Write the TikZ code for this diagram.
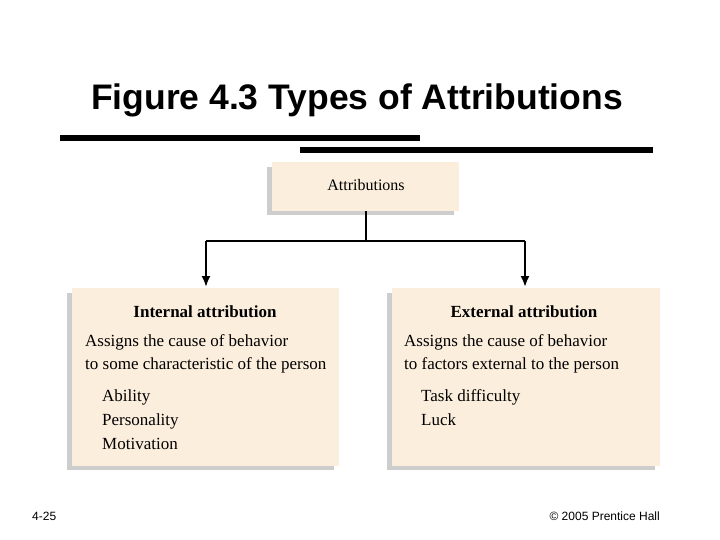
\documentclass[tikz,border=0pt]{standalone}
\usepackage{fontspec}
\usetikzlibrary{arrows.meta}
\setmainfont{Liberation Serif}
\newfontfamily\arial{Liberation Sans}
\definecolor{peach}{RGB}{252,238,221}
\definecolor{shade}{RGB}{205,205,205}
\begin{document}
\begin{tikzpicture}[x=1pt,y=-1pt,
  box/.style={fill=peach},
  shadowbox/.style={fill=shade},
  conn/.style={line width=2pt},
  txt/.style={anchor=base west,inner sep=0pt,font=\fontsize{17}{17}\selectfont},
  hd/.style={anchor=base,inner sep=0pt,font=\fontsize{17}{17}\selectfont\bfseries},
  arr/.style={conn,-{Latex[length=11pt,width=9pt]}}]
\useasboundingbox (0,0) rectangle (720,540);
\node[font=\arial\bfseries\fontsize{35.5}{35.5}\selectfont,anchor=base,inner sep=0pt] (title) at (357,110) {Figure 4.3 Types of Attributions};
\fill (60,135) rectangle (420,141);
\fill (300,147) rectangle (653,153);
% attributions
\fill[shadowbox] (267,167) rectangle (454,215);
\fill[box] (272,162) rectangle (459,211);
\node[anchor=base,inner sep=0pt,font=\fontsize{16}{16}\selectfont] (attr) at (366,191) {Attributions};
\coordinate (top) at (366,211);
\coordinate (jn) at (366,241);
\coordinate (la) at (206,241);
\coordinate (ra) at (525,241);
\coordinate (lb) at (206,287);
\coordinate (rb) at (525,287);
\draw[conn] (top) -- (jn);
\draw[conn] (la) -- (ra);
\draw[arr] (la) -- (lb);
\draw[arr] (ra) -- (rb);
% left
\fill[shadowbox] (67,293) rectangle (334,470);
\fill[box] (72,288) rectangle (339,466);
\node[hd] (lh) at (205,317) {Internal attribution};
\node[txt] (l1) at (85,346) {Assigns the cause of behavior};
\node[txt] (l2) at (85,369) {to some characteristic of the person};
\node[txt] (l3) at (102,401) {Ability};
\node[txt] (l4) at (102,425) {Personality};
\node[txt] (l5) at (102,449) {Motivation};
% right
\fill[shadowbox] (387,293) rectangle (655,470);
\fill[box] (392,288) rectangle (660,466);
\node[hd] (rh) at (524,317) {External attribution};
\node[txt] (r1) at (404,346) {Assigns the cause of behavior};
\node[txt] (r2) at (404,369) {to factors external to the person};
\node[txt] (r3) at (421,401) {Task difficulty};
\node[txt] (r4) at (421,425) {Luck};
% footer
\node[anchor=base west,inner sep=0pt,font=\arial\fontsize{12}{12}\selectfont] (pg) at (32,520) {4-25};
\node[anchor=base east,inner sep=0pt,font=\arial\fontsize{12}{12}\selectfont] (cp) at (660,520) {© 2005 Prentice Hall};
\end{tikzpicture}
\end{document}
